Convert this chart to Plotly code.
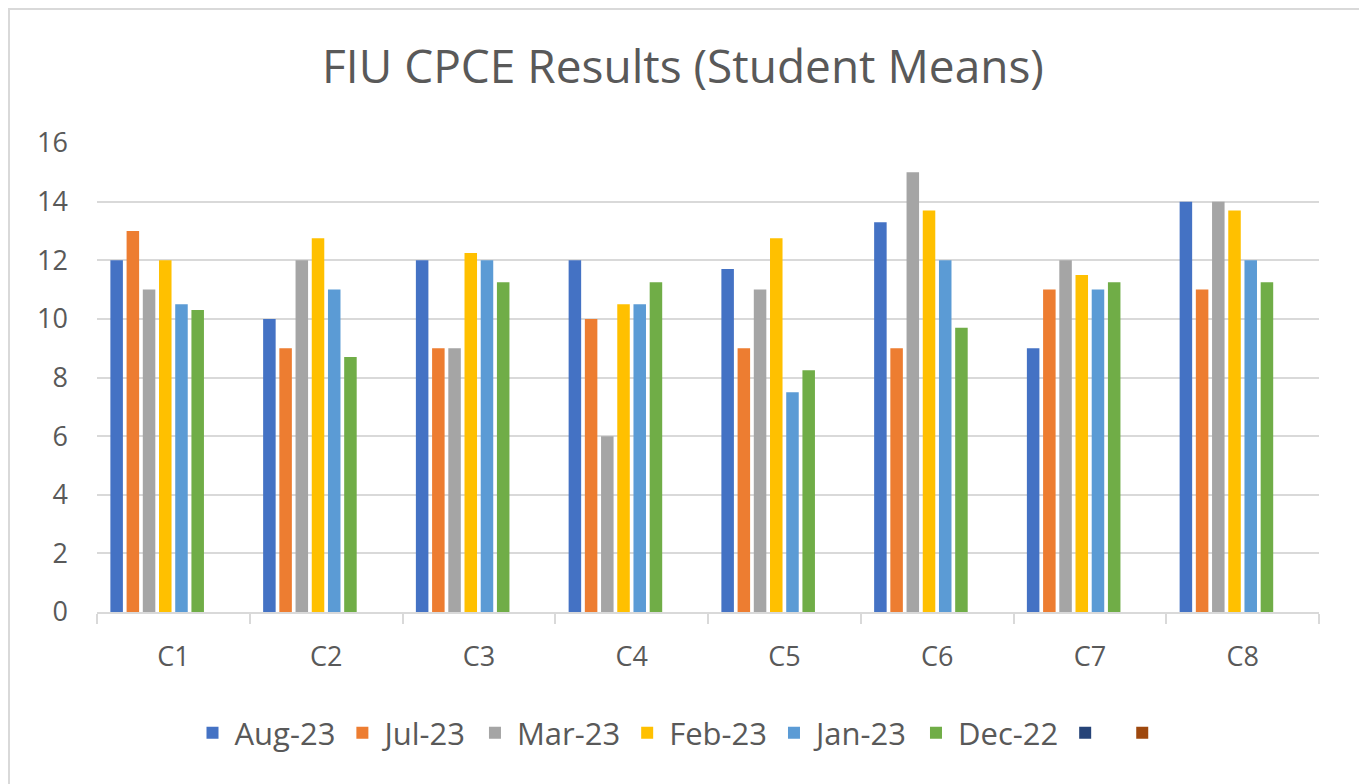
import plotly.graph_objects as go

categories = ["C1", "C2", "C3", "C4", "C5", "C6", "C7", "C8"]
aug23 = [12, 10, 12, 12, 11.7, 13.3, 9, 14]
jul23 = [13, 9, 9, 10, 9, 9, 11, 11]
mar23 = [11, 12, 9, 6, 11, 15, 12, 14]
feb23 = [12, 12.75, 12.25, 10.5, 12.75, 13.7, 11.5, 13.7]
jan23 = [10.5, 11, 12, 10.5, 7.5, 12, 11, 12]
dec22 = [10.3, 8.7, 11.25, 11.25, 8.25, 9.7, 11.25, 11.25]
blank1 = [None, None, None, None, None, None, None, None]
blank2 = [None, None, None, None, None, None, None, None]

series_names = ["Aug-23", "Jul-23", "Mar-23", "Feb-23", "Jan-23", "Dec-22", " ", "  "]
series_values = [aug23, jul23, mar23, feb23, jan23, dec22, blank1, blank2]
series_colors = ["#4472C4", "#ED7D31", "#A5A5A5", "#FFC000", "#5B9BD5", "#70AD47", "#264478", "#9E480E"]

FONT = "Open Sans"
TXT = "#595959"
GRID = "#d9d9d9"

fig = go.Figure()
for name, vals, col in zip(series_names, series_values, series_colors):
    fig.add_trace(go.Bar(x=categories, y=vals, name=name,
                         marker=dict(color=col, line=dict(width=0))))

# page body has an 8px margin, so the figure is sized/offset to compensate
W, H = 1359, 776
L, R, T, B = 89, 48, 135, 172
pw, ph = W - L - R, H - T - B

fig.update_layout(
    width=W, height=H,
    margin=dict(l=L, r=R, t=T, b=B),
    paper_bgcolor="white", plot_bgcolor="white",
    barmode="group", bargap=0.151, bargroupgap=0.228,
    title=dict(text="FIU CPCE Results (Student Means)", x=(683 - 8) / W, xref="container", xanchor="center",
               y=1 - 59 / H, yref="container", yanchor="middle",
               font=dict(family=FONT, size=46, color=TXT)),
    font=dict(family=FONT, color=TXT),
    legend=dict(orientation="h", x=(688 - 8 - L) / pw, xanchor="center", y=-(725 - (H - B)) / ph, yanchor="middle",
                font=dict(family=FONT, size=31, color=TXT), traceorder="normal", itemwidth=34),
    showlegend=True,
)
fig.update_yaxes(range=[0, 16], dtick=2, showgrid=True, gridcolor=GRID, gridwidth=2,
                 zeroline=False, showline=False, ticks="", ticklabelstandoff=28,
                 tickfont=dict(family=FONT, size=27, color=TXT))
fig.update_xaxes(showline=True, linecolor=GRID, linewidth=2, ticks="outside", tickson="boundaries",
                 ticklen=10, tickwidth=2, tickcolor=GRID, ticklabelstandoff=20,
                 tickfont=dict(family=FONT, size=27, color=TXT))

# outer chart border
fig.add_shape(type="rect", xref="paper", yref="paper",
              x0=(1 - L) / pw, x1=(1352 - L) / pw,
              y0=-(800 - (H - B)) / ph, y1=(H - B - 1) / ph,
              line=dict(color=GRID, width=2), fillcolor="rgba(0,0,0,0)", layer="below")

fig.write_html("out.html")
